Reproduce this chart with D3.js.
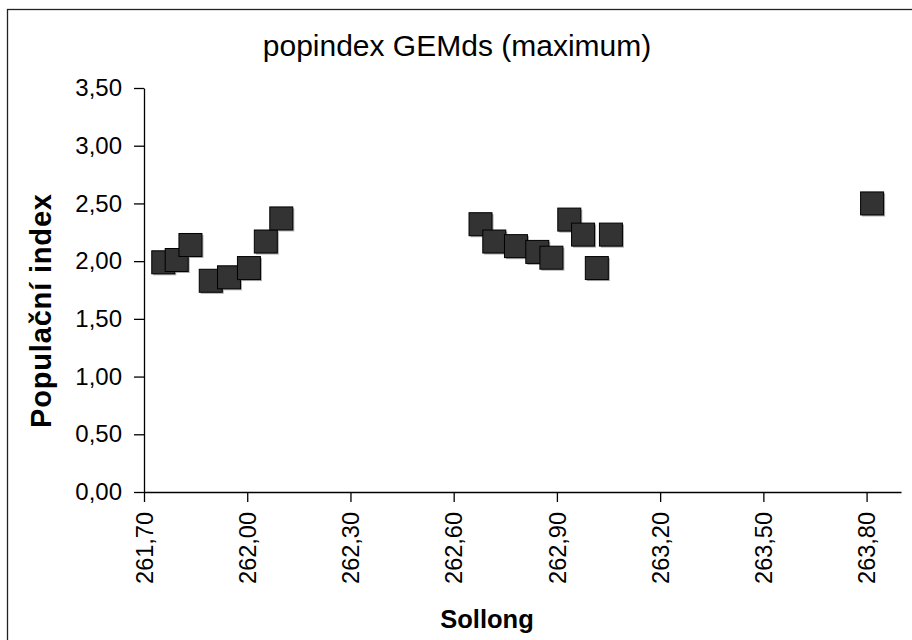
<!DOCTYPE html>
<html><head><meta charset="utf-8">
<script src="https://cdn.jsdelivr.net/npm/d3@7"></script>
<style>body{margin:0;background:#fff}svg{display:block}text{font-family:"Liberation Sans",Arial,sans-serif;fill:#000}</style>
</head><body>
<svg id="c" width="912" height="640"></svg>
<script>
const sollong = [261.756,261.795,261.835,261.894,261.947,262.005,262.054,262.099,
  262.678,262.718,262.781,262.843,262.884,262.936,262.976,263.016,263.057,263.816];
const popIndex = [1.99,2.01,2.14,1.83,1.86,1.94,2.17,2.37,
  2.32,2.17,2.13,2.08,2.03,2.36,2.23,1.94,2.23,2.50];
const xTicks = [261.7,262.0,262.3,262.6,262.9,263.2,263.5,263.8];
const yTicks = [0,0.5,1,1.5,2,2.5,3,3.5];
const title = "popindex GEMds (maximum)";
const xTitle = "Sollong";
const yTitle = "Populační index";

const svg = d3.select("#c");
const L=144,R=901,T=88,B=492;
svg.append("rect").attr("x",7.5).attr("y",9.5).attr("width",1000).attr("height",1000)
  .attr("fill","none").attr("stroke","#222").attr("stroke-width",1.3);

const x = d3.scaleLinear().domain([261.7,263.9]).range([L,R]);
const y = d3.scaleLinear().domain([0,3.5]).range([B,T]);
const fmt = v => d3.format(".2f")(v).replace(".",",");

const gx = svg.append("g").attr("transform",`translate(0,${B})`)
  .call(d3.axisBottom(x).tickValues(xTicks).tickFormat(fmt).tickSize(10).tickSizeOuter(0));
gx.select(".domain").attr("stroke","#000").attr("stroke-width",1.3);
gx.selectAll(".tick line").attr("stroke","#000").attr("stroke-width",1.3);
gx.selectAll(".tick text").attr("transform","rotate(-90)").attr("text-anchor","end")
  .attr("x",-20).attr("y",0).attr("dy","0.35em").style("font-size","23.5px");

const gy = svg.append("g").attr("transform",`translate(${L},0)`)
  .call(d3.axisLeft(y).tickValues(yTicks).tickFormat(fmt).tickSize(10).tickSizeOuter(0));
gy.select(".domain").attr("stroke","#000").attr("stroke-width",1.3);
gy.selectAll(".tick line").attr("stroke","#000").attr("stroke-width",1.3);
gy.selectAll(".tick text").attr("x",-22).style("font-size","24px");

const pts = sollong.map((s,i)=>({s, v:popIndex[i]}));
const S = 23;
svg.append("g").selectAll("rect.sh").data(pts).join("rect")
  .attr("x",d=>x(d.s)-S/2+1.5).attr("y",d=>y(d.v)-S/2+1.5).attr("width",S).attr("height",S)
  .attr("fill","#aaa");
svg.append("g").selectAll("rect.pt").data(pts).join("rect")
  .attr("x",d=>x(d.s)-S/2).attr("y",d=>y(d.v)-S/2).attr("width",S).attr("height",S)
  .attr("fill","#333").attr("stroke","#000").attr("stroke-width",1);

svg.append("text").attr("x",457).attr("y",56).attr("text-anchor","middle")
  .style("font-size","30px").text(title);
svg.append("text").attr("x",487).attr("y",628).attr("text-anchor","middle")
  .style("font-size","25.5px").style("font-weight","bold").text(xTitle);
svg.append("text").attr("transform",`translate(51,311) rotate(-90)`).attr("text-anchor","middle")
  .attr("textLength",234).attr("lengthAdjust","spacing")
  .style("font-size","29px").style("font-weight","bold").text(yTitle);
</script></body></html>
